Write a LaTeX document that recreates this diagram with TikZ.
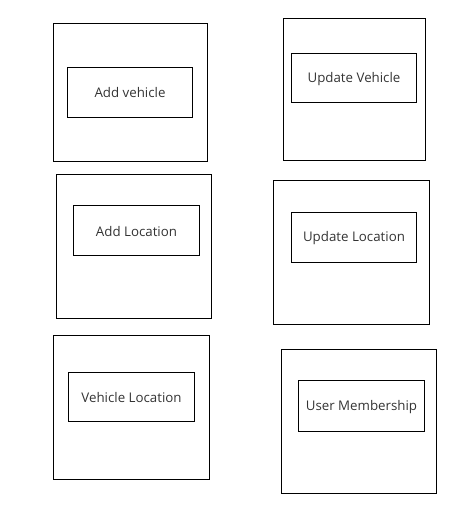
\documentclass[tikz,border=0pt]{standalone}
\usepackage{fontspec}
\setmainfont{Open Sans}
\begin{document}
\begin{tikzpicture}[x=1pt,y=-1pt,
  outerbox/.style={draw=black,line width=1pt},
  innerbox/.style={draw=black,line width=1pt},
  lbl/.style={font=\fontsize{13.3}{15}\selectfont,text=black!80}]
\useasboundingbox (0,0) rectangle (471,522);
% box 1
\draw[outerbox] (53.5,23.5) rectangle (207.5,161.5);
\draw[innerbox] (67.5,67.5) rectangle (192.5,117.5);
\node[lbl] (t1) at (130,93) {Add vehicle};
% box 2
\draw[outerbox] (283.5,18.5) rectangle (425.5,160.5);
\draw[innerbox] (291.5,53.5) rectangle (416.5,102.5);
\node[lbl] (t2) at (354,79) {Update Vehicle};
% box 3
\draw[outerbox] (56.5,174.5) rectangle (211.5,318.5);
\draw[innerbox] (73.5,205.5) rectangle (199.5,255.5);
\node[lbl] (t3) at (136.5,232) {Add Location};
% box 4
\draw[outerbox] (273.5,180.5) rectangle (429.5,324.5);
\draw[innerbox] (291.5,212.5) rectangle (416.5,262.5);
\node[lbl] (t4) at (354,238.5) {Update Location};
% box 5
\draw[outerbox] (53.5,335.5) rectangle (209.5,479.5);
\draw[innerbox] (68.5,372.5) rectangle (194.5,421.5);
\node[lbl] (t5) at (131.5,398) {Vehicle Location};
% box 6
\draw[outerbox] (281.5,349.5) rectangle (436.5,493.5);
\draw[innerbox] (298.5,380.5) rectangle (424.5,431.5);
\node[lbl] (t6) at (361.5,407) {User Membership};
\end{tikzpicture}
\end{document}
